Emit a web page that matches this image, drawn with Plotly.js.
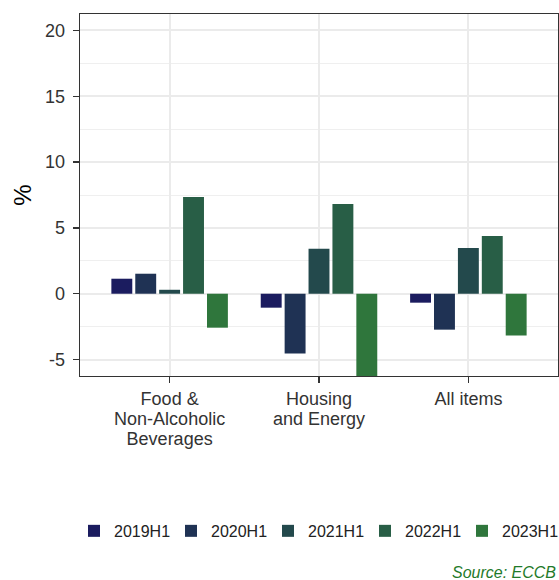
<!DOCTYPE html>
<html>
<head>
<meta charset="utf-8">
<script src="https://cdn.plot.ly/plotly-3.0.1.min.js"></script>
<style>html,body{margin:0;padding:0;background:#fff;}#chart{width:559px;height:580px;}</style>
</head>
<body>
<div id="chart"></div>
<script>
var categories = ["Food &<br>Non-Alcoholic<br>Beverages", "Housing<br>and Energy", "All items"];
var seriesNames = ["2019H1", "2020H1", "2021H1", "2022H1", "2023H1"];
var v2019 = [1.14, -1.06, -0.68];
var v2020 = [1.52, -4.55, -2.73];
var v2021 = [0.30, 3.41, 3.48];
var v2022 = [7.35, 6.82, 4.39];
var v2023 = [-2.58, -7.0, -3.18];
var colors = ["#1b1c5f", "#1f3254", "#23494c", "#285e46", "#2f763c"];
var yTickVals = [-5, 0, 5, 10, 15, 20];

var allValues = [v2019, v2020, v2021, v2022, v2023];
var traces = seriesNames.map(function (n, i) {
  return {
    type: "bar",
    name: n,
    x: categories,
    y: allValues[i],
    marker: { color: colors[i], line: { width: 0 } },
    hoverinfo: "x+y+name"
  };
});

var font = "Liberation Sans, Arial, sans-serif";
var layout = {
  width: 559,
  height: 580,
  margin: { l: 80, r: 1, t: 14, b: 204 },
  paper_bgcolor: "#fff",
  plot_bgcolor: "#fff",
  font: { family: font, size: 18, color: "#333" },
  barmode: "group",
  bargap: 0.2,
  bargroupgap: 0.125,
  showlegend: true,
  legend: {
    orientation: "h",
    x: -0.006, xanchor: "left",
    y: -0.428, yanchor: "middle",
    font: { family: font, size: 16, color: "#222" },
    entrywidth: 52, entrywidthmode: "pixels",
    bgcolor: "rgba(0,0,0,0)"
  },
  xaxis: {
    type: "category",
    range: [-0.6, 2.6],
    showgrid: true,
    gridcolor: "#EBEBEB",
    gridwidth: 2,
    showline: true, mirror: true, linecolor: "#333", linewidth: 1.3,
    ticks: "outside", ticklen: 6, tickcolor: "#333", tickwidth: 1.2,
    tickfont: { family: font, size: 18, color: "#333" },
    zeroline: false,
    fixedrange: true
  },
  yaxis: {
    range: [-6.25, 21.25],
    tickvals: yTickVals,
    ticktext: yTickVals.map(String),
    showgrid: true,
    gridcolor: "#EBEBEB",
    gridwidth: 2,
    minor: { dtick: 2.5, tick0: 0, showgrid: true, gridcolor: "#EFEFEF", gridwidth: 1, ticks: "" },
    showline: true, mirror: true, linecolor: "#333", linewidth: 1.3,
    ticks: "outside", ticklen: 6, tickcolor: "#333", tickwidth: 1.2,
    ticklabelstandoff: 4,
    tickfont: { family: font, size: 18, color: "#333" },
    zeroline: false,
    title: { text: "%", font: { family: font, size: 24, color: "#000" }, standoff: 6 },
    fixedrange: true
  },
  annotations: [{
    text: "<i>Source: ECCB</i>",
    xref: "paper", yref: "paper",
    x: 1.0, xanchor: "right",
    y: -0.544, yanchor: "middle",
    showarrow: false,
    font: { family: font, size: 16, color: "#1f7a2a" }
  }]
};

Plotly.newPlot("chart", traces, layout, { displayModeBar: false, staticPlot: true }).then(function (gd) {
  // tighten multi-line x tick label spacing to match reference line height
  var spans = gd.querySelectorAll(".xtick text tspan.line");
  spans.forEach(function (s) {
    var dy = s.getAttribute("dy");
    if (dy && /em$/.test(dy)) {
      var v = parseFloat(dy);
      s.setAttribute("dy", (v * 1.1 / 1.3) + "em");
    }
  });
});
</script>
</body>
</html>
